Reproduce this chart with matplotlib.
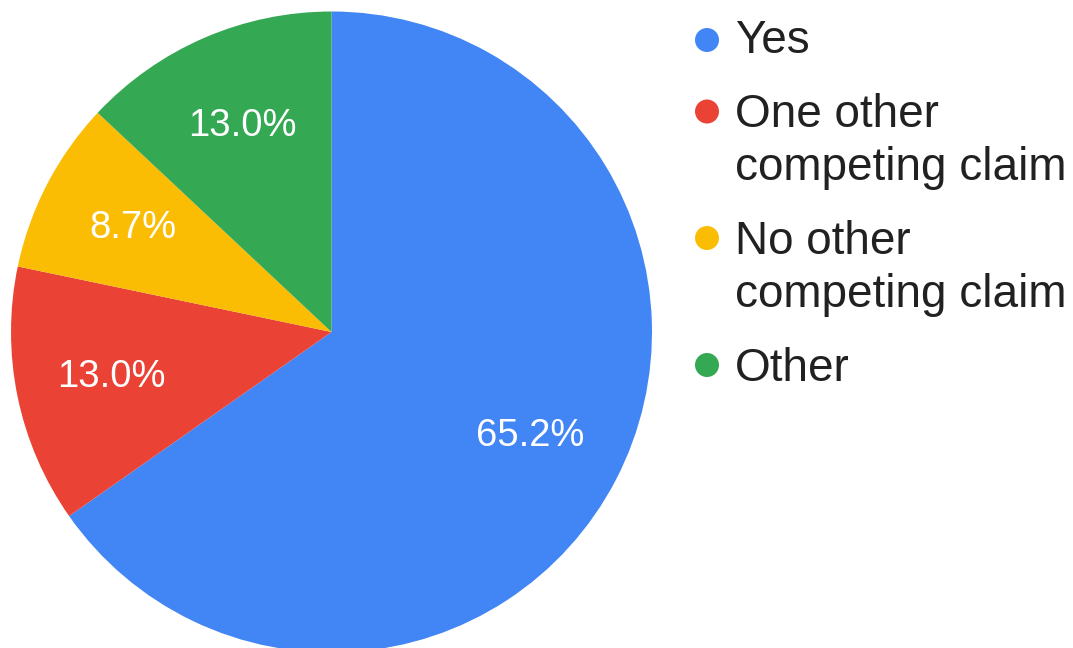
import matplotlib
matplotlib.use("Agg")
import matplotlib.pyplot as plt
from matplotlib.patches import Circle

categories = ["Yes", "One other\ncompeting claim", "No other\ncompeting claim", "Other"]
values = [65.2, 13.0, 8.7, 13.0]
colors = ["#4285F4", "#EA4335", "#FBBC04", "#34A853"]

plt.rcParams['font.family'] = ['Liberation Sans', 'DejaVu Sans']

W, H = 1073, 648
fig = plt.figure(figsize=(W / 100, H / 100), dpi=100)

# pie axes: centre (331.5, 332) px from top-left, radius 320.5 px
cx, cy, r = 331.5, 332.0, 320.5
ax = fig.add_axes([(cx - r) / W, (H - cy - r) / H, 2 * r / W, 2 * r / H])
wedges, texts, autotexts = ax.pie(
    values, colors=colors, startangle=90, counterclock=False,
    autopct="%1.1f%%", pctdistance=0.7,
    textprops=dict(color="white", fontsize=27.5),
    wedgeprops=dict(linewidth=0))
for t, v in zip(autotexts, values):
    t.set_text(f"{v:.1f}%")
ax.set_aspect('auto')
ax.set_xlim(-1, 1)
ax.set_ylim(-1, 1)
ax.axis('off')

# legend overlay in pixel coordinates
lx = fig.add_axes([0, 0, 1, 1], zorder=5)
lx.set_xlim(0, W)
lx.set_ylim(H, 0)
lx.axis('off')
lx.patch.set_alpha(0)

marker_y = [40, 111.5, 238, 365]
baselines = [53, 127, 254, 381]
line_h = 53
for lab, col, my, by in zip(categories, colors, marker_y, baselines):
    lx.add_patch(Circle((707, my), 12, color=col, lw=0))
    for i, line in enumerate(lab.split("\n")):
        lx.text(735, by + i * line_h, line, fontsize=33, color="#212121",
                va='baseline', ha='left')

fig.savefig("out.png", dpi=100)
